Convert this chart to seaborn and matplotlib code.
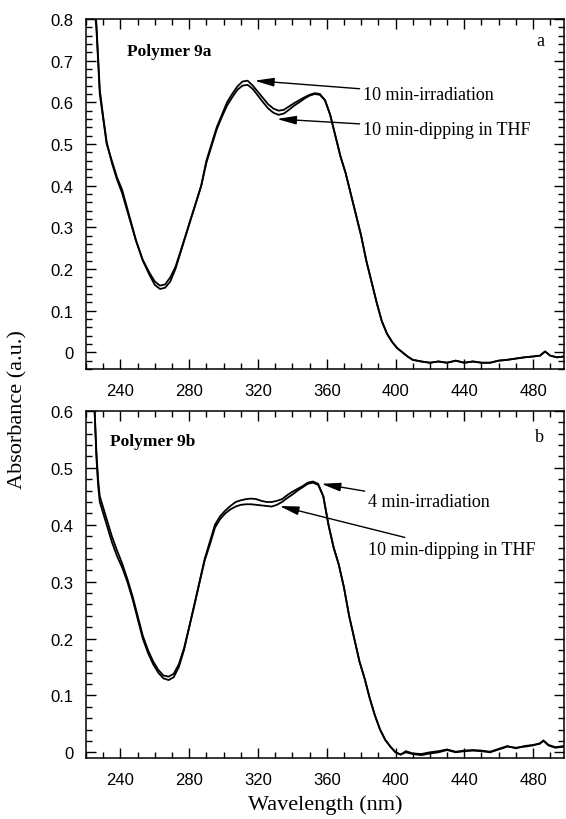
import matplotlib
matplotlib.use("Agg")
import matplotlib.pyplot as plt
from matplotlib.ticker import MultipleLocator
import seaborn as sns
import pandas as pd

# ---- data (wavelength in nm, absorbance in a.u.) ----
wl_9a = [224, 226, 227, 228, 230, 232, 235, 238, 241, 245, 249, 253, 257, 260,
         263, 266, 269, 272, 275, 278, 281, 284, 287, 290, 293, 296, 299, 302,
         305, 308, 311, 314, 317, 320, 323, 326, 329, 332, 335, 338, 341, 344,
         347, 350, 353, 356, 359, 362, 365, 368, 371, 374, 377, 380, 383, 386,
         389, 392, 395, 398, 401, 404, 407, 410, 415, 420, 425, 430, 435, 440,
         445, 450, 455, 460, 465, 470, 475, 480, 484, 487, 490, 494, 498]
irr_9a = [0.86, 0.78, 0.70, 0.62, 0.56, 0.50, 0.46, 0.42, 0.39, 0.33, 0.27, 0.22,
          0.185, 0.162, 0.152, 0.155, 0.17, 0.20, 0.24, 0.28, 0.32, 0.36, 0.40,
          0.46, 0.50, 0.54, 0.57, 0.60, 0.62, 0.638, 0.65, 0.652, 0.64, 0.625,
          0.61, 0.595, 0.585, 0.58, 0.582, 0.59, 0.598, 0.605, 0.612, 0.618,
          0.622, 0.62, 0.605, 0.57, 0.52, 0.47, 0.43, 0.38, 0.33, 0.28, 0.22,
          0.17, 0.12, 0.075, 0.045, 0.025, 0.01, 0.0, -0.01, -0.018, -0.022,
          -0.025, -0.022, -0.025, -0.02, -0.025, -0.022, -0.025, -0.025, -0.02,
          -0.018, -0.015, -0.012, -0.01, -0.008, 0.002, -0.008, -0.012, -0.01]
dip_9a = [0.86, 0.79, 0.71, 0.63, 0.565, 0.505, 0.455, 0.415, 0.382, 0.325, 0.268,
          0.222, 0.19, 0.17, 0.16, 0.163, 0.18, 0.205, 0.243, 0.282, 0.322, 0.36,
          0.40, 0.455, 0.495, 0.535, 0.565, 0.592, 0.612, 0.63, 0.64, 0.642,
          0.632, 0.616, 0.60, 0.585, 0.575, 0.57, 0.573, 0.582, 0.592, 0.60,
          0.609, 0.616, 0.62, 0.618, 0.605, 0.57, 0.52, 0.47, 0.43, 0.38, 0.33,
          0.28, 0.22, 0.17, 0.12, 0.075, 0.045, 0.025, 0.01, 0.0, -0.01, -0.018,
          -0.022, -0.025, -0.022, -0.025, -0.02, -0.025, -0.022, -0.025, -0.025,
          -0.02, -0.018, -0.015, -0.012, -0.01, -0.008, 0.002, -0.008, -0.012,
          -0.01]

wl_9b = [224, 225, 226, 227, 228, 230, 232, 235, 238, 241, 244, 247, 250, 253,
         256, 259, 262, 265, 268, 271, 274, 277, 280, 283, 286, 289, 292, 295,
         298, 301, 304, 307, 310, 313, 316, 319, 322, 325, 328, 331, 334, 337,
         340, 343, 346, 349, 352, 355, 358, 361, 364, 367, 370, 373, 376, 379,
         382, 385, 388, 391, 394, 397, 400, 403, 406, 410, 415, 420, 425, 430,
         435, 440, 445, 450, 455, 460, 465, 470, 475, 480, 484, 486, 489, 493, 498]
irr_9b = [0.66, 0.60, 0.52, 0.47, 0.44, 0.42, 0.40, 0.37, 0.345, 0.325, 0.30,
          0.27, 0.235, 0.20, 0.175, 0.155, 0.14, 0.13, 0.127, 0.132, 0.15, 0.18,
          0.22, 0.26, 0.30, 0.34, 0.37, 0.40, 0.415, 0.425, 0.433, 0.44, 0.443,
          0.445, 0.446, 0.445, 0.442, 0.44, 0.44, 0.442, 0.445, 0.452, 0.458,
          0.463, 0.468, 0.474, 0.476, 0.472, 0.45, 0.40, 0.36, 0.33, 0.29, 0.24,
          0.20, 0.16, 0.13, 0.095, 0.065, 0.04, 0.022, 0.01, 0.0, -0.004, 0.0,
          -0.003, -0.005, -0.002, 0.0, 0.004, 0.0, 0.002, 0.003, 0.002, 0.0,
          0.005, 0.01, 0.008, 0.01, 0.012, 0.016, 0.02, 0.012, 0.008, 0.01]
dip_9b = [0.66, 0.60, 0.53, 0.48, 0.45, 0.43, 0.41, 0.38, 0.355, 0.332, 0.305,
          0.275, 0.24, 0.205, 0.18, 0.16, 0.145, 0.135, 0.133, 0.138, 0.155,
          0.183, 0.22, 0.258, 0.298, 0.337, 0.365, 0.395, 0.41, 0.42, 0.427,
          0.432, 0.435, 0.436, 0.436, 0.435, 0.434, 0.433, 0.432, 0.435, 0.44,
          0.447, 0.453, 0.46, 0.466, 0.472, 0.474, 0.47, 0.45, 0.40, 0.36, 0.33,
          0.29, 0.24, 0.20, 0.16, 0.13, 0.095, 0.065, 0.04, 0.022, 0.01, 0.0,
          -0.004, 0.002, -0.002, -0.003, 0.0, 0.002, 0.005, 0.001, 0.003, 0.004,
          0.003, 0.001, 0.006, 0.011, 0.007, 0.011, 0.013, 0.015, 0.021, 0.013,
          0.009, 0.011]

x_ticks = [240, 280, 320, 360, 400, 440, 480]

sns.set_style("ticks")
plt.rcParams['font.family'] = ['Liberation Sans', 'DejaVu Sans']
plt.rcParams['axes.linewidth'] = 1.1
plt.rcParams['text.color'] = 'black'

SERIF = ['Liberation Serif', 'DejaVu Serif']

fig = plt.figure(figsize=(5.66, 8.2), dpi=100)
ax_a = fig.add_axes([0.152, 0.5488, 0.8445, 0.4268])
ax_b = fig.add_axes([0.152, 0.0744, 0.8445, 0.4232])


def draw_panel(ax, wl, irr, dip, ylim, ymajor):
    df = pd.DataFrame({"wl": wl, "irr": irr, "dip": dip})
    sns.lineplot(data=df, x="wl", y="irr", ax=ax, color="black", lw=1.3, sort=False)
    sns.lineplot(data=df, x="wl", y="dip", ax=ax, color="black", lw=1.3, sort=False)
    ax.set_xlim(220, 498)
    ax.set_ylim(*ylim)
    ax.set_xticks(x_ticks)
    ax.xaxis.set_minor_locator(MultipleLocator(10))
    ax.yaxis.set_major_locator(MultipleLocator(ymajor))
    ax.yaxis.set_minor_locator(MultipleLocator(0.02))
    ax.yaxis.set_major_formatter(plt.FuncFormatter(lambda v, p: "0" if abs(v) < 1e-9 else f"{v:.1f}"))
    ax.tick_params(which="both", direction="in", top=True, right=True,
                   labelsize=12, width=1.0, colors="black")
    ax.tick_params(which="major", length=7)
    ax.tick_params(axis="x", which="major", pad=10)
    ax.tick_params(axis="y", which="major", pad=9)
    ax.tick_params(which="minor", length=4)
    ax.set_xlabel("")
    ax.set_ylabel("")
    for s in ax.spines.values():
        s.set_color("black")


draw_panel(ax_a, wl_9a, irr_9a, dip_9a, (-0.04, 0.8), 0.1)
draw_panel(ax_b, wl_9b, irr_9b, dip_9b, (-0.01, 0.6), 0.1)

arrow = dict(arrowstyle="-|>,head_length=0.9,head_width=0.2", color="black",
             lw=1.0, shrinkA=0, shrinkB=0)

# panel a
ax_a.text(244, 0.723, "Polymer 9a", family=SERIF, fontsize=12.5,
          fontweight="bold", va="center")
ax_a.text(482, 0.748, "a", family=SERIF, fontsize=13, va="center")
ax_a.annotate("10 min-irradiation", xy=(318, 0.652), xytext=(381, 0.62),
              family=SERIF, fontsize=13, va="center", arrowprops=arrow)
ax_a.annotate("10 min-dipping in THF", xy=(331, 0.56), xytext=(381, 0.536),
              family=SERIF, fontsize=13, va="center", arrowprops=arrow)

# panel b
ax_b.text(234, 0.547, "Polymer 9b", family=SERIF, fontsize=12.5,
          fontweight="bold", va="center")
ax_b.text(481, 0.555, "b", family=SERIF, fontsize=13, va="center")
ax_b.annotate("4 min-irradiation", xy=(356.8, 0.472), xytext=(384, 0.44),
              family=SERIF, fontsize=13, va="center", arrowprops=arrow)
ax_b.annotate("10 min-dipping in THF", xy=(332.5, 0.433), xytext=(384, 0.357),
              family=SERIF, fontsize=13, va="center", arrowprops=arrow)

fig.text(0.032, 0.5, "Absorbance (a.u.)", family=SERIF, fontsize=16,
         rotation=90, ha="center", va="center")
fig.text(0.574, 0.018, "Wavelength (nm)", family=SERIF, fontsize=16,
         ha="center", va="center")

fig.savefig("out.png", dpi=100)
plt.close(fig)
